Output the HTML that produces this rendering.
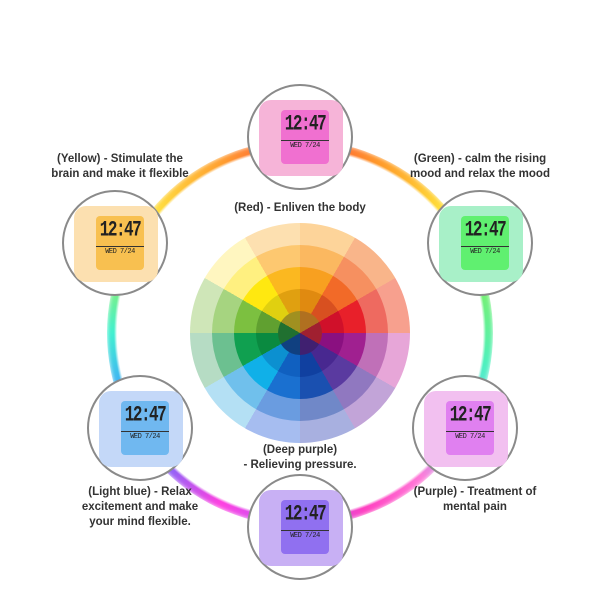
<!DOCTYPE html>
<html><head><meta charset="utf-8"><style>
body{margin:0;width:600px;height:600px;background:#fff;position:relative;overflow:hidden;font-family:"Liberation Sans",sans-serif}
.ring{position:absolute;left:107px;top:140px;width:386px;height:386px;border-radius:50%;
background:conic-gradient(from 0deg,#ff4a3a 0deg,#ff9a2a 25deg,#ffe23a 50deg,#7af06a 75deg,#4ef0c0 100deg,#7ad0ff 120deg,#ff7ad8 140deg,#ff40c0 160deg,#b060ff 180deg,#ff40e0 205deg,#6a70ff 230deg,#40a0ff 250deg,#40f0d0 270deg,#9af060 290deg,#ffe040 310deg,#ffa030 335deg,#ff4a3a 360deg);
-webkit-mask:radial-gradient(circle,transparent 183px,#000 186px,#000 195px,transparent 198px);mask:radial-gradient(circle,transparent 183px,#000 186px,#000 195px,transparent 198px);filter:blur(2px)}
.c{position:absolute;width:106px;height:106px;border-radius:50%;background:#fff;border:2px solid #8a8a8a;box-sizing:border-box}
.cube{position:absolute;left:10px;top:14px;width:84px;height:76px;border-radius:12px}
.lcd{position:absolute;left:22px;top:10px;width:48px;height:54px;border-radius:4px;font-family:"Liberation Mono",monospace;color:#222;text-align:center;line-height:1;overflow:hidden}
.lcd b{display:block;font-size:16px;margin-top:6px;letter-spacing:-1.5px;transform:scaleY(1.4)}
.lcd i{display:block;font-style:normal;font-size:7px;margin-top:8px;border-top:1px solid #333;padding-top:2px;letter-spacing:-0.5px}
.t{position:absolute;font-size:11.5px;font-weight:bold;color:#333;text-align:center;line-height:15px;white-space:nowrap}
.w{position:absolute;left:190px;top:223px;width:220px;height:220px;border-radius:50%}
</style></head><body>
<div class="ring"></div>
<div class="w" style="background:conic-gradient(#fdd49a 0 30deg,#f9b58a 30deg 60deg,#f7a08e 60deg 90deg,#e7a6d8 90deg 120deg,#c2a4d8 120deg 150deg,#a8b0e0 150deg 180deg,#a6bdf0 180deg 210deg,#b4e0f4 210deg 240deg,#b6dcc4 240deg 270deg,#cfe6b8 270deg 300deg,#fff6c0 300deg 330deg,#fde0b0 330deg 360deg)"></div>
<div class="w" style="left:212px;top:245px;width:176px;height:176px;background:conic-gradient(#fbb860 0 30deg,#f69060 30deg 60deg,#ee6a60 60deg 90deg,#c070b8 90deg 120deg,#9078c0 120deg 150deg,#7088c8 150deg 180deg,#6a9ce0 180deg 210deg,#70c0ec 210deg 240deg,#6cc090 240deg 270deg,#a6d480 270deg 300deg,#fff080 300deg 330deg,#fdc870 330deg 360deg)"></div>
<div class="w" style="left:234px;top:267px;width:132px;height:132px;background:conic-gradient(#f8a020 0 30deg,#f26a28 30deg 60deg,#e8202a 60deg 90deg,#a02090 90deg 120deg,#5a3aa0 120deg 150deg,#1a50b0 150deg 180deg,#1a70d0 180deg 210deg,#10b0e8 210deg 240deg,#10a050 240deg 270deg,#7cc040 270deg 300deg,#ffe810 300deg 330deg,#fbb820 330deg 360deg)"></div>
<div class="w" style="left:256px;top:289px;width:88px;height:88px;background:conic-gradient(#e08a10 0 30deg,#d85020 30deg 60deg,#d0102a 60deg 90deg,#8a1080 90deg 120deg,#482890 120deg 150deg,#1040a0 150deg 180deg,#1060c0 180deg 210deg,#0c90d0 210deg 240deg,#0a8a40 240deg 270deg,#60a030 270deg 300deg,#e0d010 300deg 330deg,#e0a010 330deg 360deg)"></div>
<div class="w" style="left:278px;top:311px;width:44px;height:44px;background:conic-gradient(#b07020 0 60deg,#a02030 60deg 120deg,#402070 120deg 180deg,#104080 180deg 240deg,#207030 240deg 300deg,#a09020 300deg 360deg)"></div>

<div class="c" style="left:247px;top:84px"><div class="cube" style="background:#f6b4d8"><div class="lcd" style="background:#f070d0"><b>12:47</b><i>WED 7/24</i></div></div></div>
<div class="c" style="left:62px;top:190px"><div class="cube" style="background:#fce0b0"><div class="lcd" style="background:#f8c050"><b>12:47</b><i>WED 7/24</i></div></div></div>
<div class="c" style="left:427px;top:190px"><div class="cube" style="background:#a8f0c8"><div class="lcd" style="background:#60f070"><b>12:47</b><i>WED 7/24</i></div></div></div>
<div class="c" style="left:87px;top:375px"><div class="cube" style="background:#c4d8f8"><div class="lcd" style="background:#70b8f0"><b>12:47</b><i>WED 7/24</i></div></div></div>
<div class="c" style="left:412px;top:375px"><div class="cube" style="background:#f2c0f0"><div class="lcd" style="background:#e080f0"><b>12:47</b><i>WED 7/24</i></div></div></div>
<div class="c" style="left:247px;top:474px"><div class="cube" style="background:#c8b0f4"><div class="lcd" style="background:#9070f0"><b>12:47</b><i>WED 7/24</i></div></div></div>

<div class="t" style="left:20px;top:152px;width:200px">(Yellow) - Stimulate the<br>brain and make it flexible</div>
<div class="t" style="left:380px;top:152px;width:200px">(Green) - calm the rising<br>mood and relax the mood</div>
<div class="t" style="left:200px;top:201px;width:200px">(Red) - Enliven the body</div>
<div class="t" style="left:200px;top:443px;width:200px">(Deep purple)<br>- Relieving pressure.</div>
<div class="t" style="left:40px;top:485px;width:200px">(Light blue) - Relax<br>excitement and make<br>your mind flexible.</div>
<div class="t" style="left:375px;top:485px;width:200px">(Purple) - Treatment of<br>mental pain</div>
</body></html>
